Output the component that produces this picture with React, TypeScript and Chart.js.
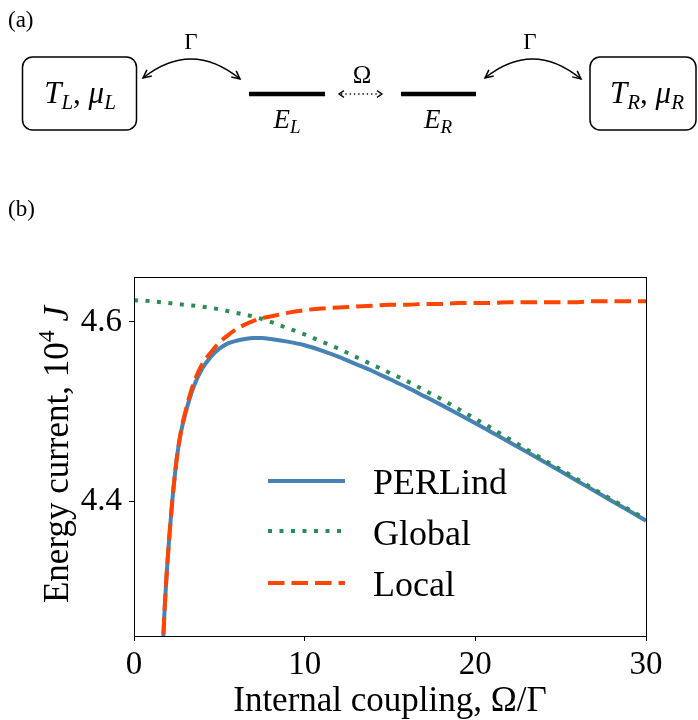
import React, { useEffect, useRef } from 'react';
import { Chart, registerables } from 'chart.js';

Chart.register(...registerables);

const W = 698;
const H = 720;
const SERIF = '"Liberation Serif", "DejaVu Serif", serif';

// ---- data ----
const xTicks = [0, 10, 20, 30];
const yTicks = [4.4, 4.6];

const seriesLabels = ['PERLind', 'Global', 'Local'];
const seriesColors = ['#4682b4', '#2e8b57', '#ff4500'];

const xCoupling = [1.55, 1.72, 1.8, 1.9, 2.0, 2.1, 2.25, 2.5, 2.75, 3.0, 3.25, 3.5, 4.0, 4.5, 5.0, 5.5, 6.0, 6.5, 7.0, 7.5, 8.0, 9, 10, 11, 12, 13, 14, 15, 16, 17, 18, 19, 20, 21, 22, 23, 24, 25, 26, 27, 28, 29, 30];
const perlindValues = [4.2, 4.25, 4.282, 4.315, 4.343, 4.368, 4.402, 4.447, 4.477, 4.497, 4.514, 4.528, 4.548, 4.561, 4.57, 4.576, 4.579, 4.581, 4.582, 4.582, 4.581, 4.578, 4.574, 4.568, 4.561, 4.553, 4.545, 4.536, 4.527, 4.5173, 4.5075, 4.4973, 4.487, 4.4765, 4.466, 4.4553, 4.4445, 4.4335, 4.4225, 4.4115, 4.4005, 4.3895, 4.3785];
const localValues = [4.2, 4.25, 4.282, 4.315, 4.343, 4.368, 4.402, 4.447, 4.478, 4.499, 4.517, 4.532, 4.553, 4.566, 4.577, 4.585, 4.592, 4.597, 4.601, 4.604, 4.606, 4.61, 4.613, 4.615, 4.616, 4.617, 4.618, 4.619, 4.619, 4.62, 4.62, 4.621, 4.621, 4.621, 4.622, 4.622, 4.622, 4.622, 4.622, 4.623, 4.623, 4.623, 4.623];

const xGlobal = [0, 1, 2, 3, 4, 5, 6, 7, 8, 9, 10, 11, 12, 13, 14, 15, 16, 17, 18, 19, 20, 21, 22, 23, 24, 25, 26, 27, 28, 29, 30];
const globalValues = [4.624, 4.623, 4.621, 4.619, 4.617, 4.614, 4.61, 4.606, 4.6, 4.593, 4.586, 4.578, 4.57, 4.561, 4.552, 4.543, 4.534, 4.524, 4.514, 4.503, 4.492, 4.481, 4.4695, 4.458, 4.4465, 4.4355, 4.4245, 4.413, 4.402, 4.391, 4.38];

const dashes: number[][] = [[], [4, 7.5], [16.5, 7]];

type Seg = { t: string; font: string; dy?: number };

function richWidth(ctx: CanvasRenderingContext2D, segs: Seg[]) {
  let w = 0;
  for (const s of segs) {
    ctx.font = s.font;
    w += ctx.measureText(s.t).width;
  }
  return w;
}

function drawRich(ctx: CanvasRenderingContext2D, segs: Seg[], x: number, y: number, align: 'left' | 'center') {
  let cx = align === 'center' ? x - richWidth(ctx, segs) / 2 : x;
  ctx.textAlign = 'left';
  ctx.textBaseline = 'alphabetic';
  for (const s of segs) {
    ctx.font = s.font;
    ctx.fillText(s.t, cx, y + (s.dy || 0));
    cx += ctx.measureText(s.t).width;
  }
}

function arrowHead(ctx: CanvasRenderingContext2D, tx: number, ty: number, dx: number, dy: number, len = 9, ang = 0.45) {
  const a = Math.atan2(dy, dx);
  ctx.beginPath();
  ctx.moveTo(tx - len * Math.cos(a - ang), ty - len * Math.sin(a - ang));
  ctx.lineTo(tx, ty);
  ctx.lineTo(tx - len * Math.cos(a + ang), ty - len * Math.sin(a + ang));
  ctx.stroke();
}

function curvedArrow(ctx: CanvasRenderingContext2D, x0: number, y0: number, x1: number, y1: number, peak: number) {
  const cx = (x0 + x1) / 2;
  const cy = 2 * peak - (y0 + y1) / 2;
  ctx.beginPath();
  ctx.moveTo(x0, y0);
  ctx.quadraticCurveTo(cx, cy, x1, y1);
  ctx.stroke();
  arrowHead(ctx, x0, y0, x0 - cx, y0 - cy);
  arrowHead(ctx, x1, y1, x1 - cx, y1 - cy);
}

function roundRect(ctx: CanvasRenderingContext2D, x: number, y: number, w: number, h: number, r: number) {
  ctx.beginPath();
  ctx.moveTo(x + r, y);
  ctx.lineTo(x + w - r, y);
  ctx.arcTo(x + w, y, x + w, y + r, r);
  ctx.lineTo(x + w, y + h - r);
  ctx.arcTo(x + w, y + h, x + w - r, y + h, r);
  ctx.lineTo(x + r, y + h);
  ctx.arcTo(x, y + h, x, y + h - r, r);
  ctx.lineTo(x, y + r);
  ctx.arcTo(x, y, x + r, y, r);
  ctx.closePath();
  ctx.stroke();
}

function drawDiagram(ctx: CanvasRenderingContext2D) {
  ctx.save();
  ctx.fillStyle = '#000';
  ctx.strokeStyle = '#000';
  const f = (s: number, it = false) => `${it ? 'italic ' : ''}${s}px ${SERIF}`;

  drawRich(ctx, [{ t: '(a)', font: f(23) }], 8, 27, 'left');
  drawRich(ctx, [{ t: '(b)', font: f(23) }], 8, 216, 'left');

  // boxes
  ctx.lineWidth = 1.5;
  roundRect(ctx, 22.5, 57, 114, 73, 10);
  roundRect(ctx, 590, 57, 106, 73, 10);

  const box = (sub: string) => [
    { t: 'T', font: f(31, true) },
    { t: sub, font: f(21, true), dy: 6 },
    { t: ', ', font: f(31) },
    { t: 'μ', font: f(31, true) },
    { t: sub, font: f(21, true), dy: 6 },
  ];
  drawRich(ctx, box('L'), 80, 103, 'center');
  drawRich(ctx, box('R'), 647, 103, 'center');

  // curved arrows
  ctx.lineWidth = 1.5;
  curvedArrow(ctx, 143, 78, 240, 79, 59);
  curvedArrow(ctx, 485, 78, 581, 79, 59);
  drawRich(ctx, [{ t: 'Γ', font: f(23) }], 191, 49, 'center');
  drawRich(ctx, [{ t: 'Γ', font: f(23) }], 530, 49, 'center');

  // energy levels
  ctx.lineWidth = 4.5;
  ctx.beginPath();
  ctx.moveTo(249, 94);
  ctx.lineTo(325, 94);
  ctx.moveTo(401, 94);
  ctx.lineTo(476, 94);
  ctx.stroke();
  drawRich(ctx, [{ t: 'E', font: f(27, true) }, { t: 'L', font: f(19, true), dy: 5 }], 287, 128, 'center');
  drawRich(ctx, [{ t: 'E', font: f(27, true) }, { t: 'R', font: f(19, true), dy: 5 }], 438, 128, 'center');

  // dotted coupling arrow
  ctx.lineWidth = 1.3;
  ctx.setLineDash([1.3, 3]);
  ctx.beginPath();
  ctx.moveTo(341, 94);
  ctx.lineTo(380, 94);
  ctx.stroke();
  ctx.setLineDash([]);
  arrowHead(ctx, 339, 94, -1, 0, 6, 0.6);
  arrowHead(ctx, 382, 94, 1, 0, 6, 0.6);
  drawRich(ctx, [{ t: 'Ω', font: f(25) }], 362, 83, 'center');
  ctx.restore();
}

const decorPlugin = {
  id: 'decor',
  beforeDraw(chart: any) {
    const ctx = chart.ctx as CanvasRenderingContext2D;
    ctx.save();
    ctx.fillStyle = '#fff';
    ctx.fillRect(0, 0, chart.width, chart.height);
    ctx.restore();
  },
  afterDraw(chart: any) {
    const ctx = chart.ctx as CanvasRenderingContext2D;
    const a = chart.chartArea;
    ctx.save();
    // frame
    ctx.strokeStyle = '#000';
    ctx.lineWidth = 1;
    ctx.strokeRect(Math.round(a.left) + 0.5, Math.round(a.top) + 0.5, Math.round(a.right - a.left), Math.round(a.bottom - a.top));

    // legend
    const legY = [481, 531, 583];
    const legBase = [494, 545, 596];
    for (let i = 0; i < seriesLabels.length; i++) {
      ctx.strokeStyle = seriesColors[i];
      ctx.lineWidth = 4;
      ctx.lineCap = 'butt';
      ctx.setLineDash(dashes[i]);
      ctx.beginPath();
      ctx.moveTo(268, legY[i]);
      ctx.lineTo(345, legY[i]);
      ctx.stroke();
      ctx.setLineDash([]);
      ctx.fillStyle = '#000';
      drawRich(ctx, [{ t: seriesLabels[i], font: `36px ${SERIF}` }], 373, legBase[i], 'left');
    }

    // axis titles
    ctx.fillStyle = '#000';
    drawRich(ctx, [{ t: 'Internal coupling, Ω/Γ', font: `35px ${SERIF}` }], (a.left + a.right) / 2, 711, 'center');
    ctx.translate(68, (a.top + a.bottom) / 2 - 2);
    ctx.rotate(-Math.PI / 2);
    drawRich(
      ctx,
      [
        { t: 'Energy current, 10', font: `35px ${SERIF}` },
        { t: '4', font: `24px ${SERIF}`, dy: -14 },
        { t: ' ', font: `35px ${SERIF}` },
        { t: 'J', font: `italic 35px ${SERIF}` },
      ],
      0,
      0,
      'center'
    );
    ctx.restore();

    drawDiagram(ctx);
  },
};

export default function App() {
  const ref = useRef<HTMLCanvasElement | null>(null);

  useEffect(() => {
    if (!ref.current) return;
    const mk = (xs: number[], ys: number[]) => xs.map((x, i) => ({ x, y: ys[i] }));
    const common = {
      pointRadius: 0,
      pointHoverRadius: 0,
      borderWidth: 4,
      fill: false,
      clip: 0,
      borderCapStyle: 'butt',
      cubicInterpolationMode: 'monotone',
    };
    const chart = new Chart(ref.current, {
      type: 'line',
      data: {
        datasets: [
          { ...common, label: seriesLabels[0], data: mk(xCoupling, perlindValues), borderColor: seriesColors[0], borderDash: dashes[0], order: 2 },
          { ...common, label: seriesLabels[1], data: mk(xGlobal, globalValues), borderColor: seriesColors[1], borderDash: dashes[1], order: 1 },
          { ...common, label: seriesLabels[2], data: mk(xCoupling, localValues), borderColor: seriesColors[2], borderDash: dashes[2], order: 0 },
        ] as any,
      },
      options: {
        animation: false,
        responsive: false,
        maintainAspectRatio: false,
        devicePixelRatio: 1,
        events: [],
        layout: { padding: { top: 277, right: 52, left: 0, bottom: 0 } },
        plugins: { legend: { display: false }, tooltip: { enabled: false }, title: { display: false } },
        scales: {
          x: {
            type: 'linear',
            min: 0,
            max: 30,
            afterBuildTicks: (s: any) => {
              s.ticks = xTicks.map((v) => ({ value: v }));
            },
            afterFit: (s: any) => {
              s.height = 84;
            },
            grid: { display: true, drawOnChartArea: false, drawTicks: true, tickLength: 5, color: '#000', lineWidth: 1 },
            border: { display: false },
            ticks: {
              color: '#000',
              font: { family: SERIF, size: 33 },
              padding: 5,
              maxRotation: 0,
              autoSkip: false,
              callback: (v: any) => String(v),
            },
          },
          y: {
            type: 'linear',
            min: 4.25,
            max: 4.65,
            afterBuildTicks: (s: any) => {
              s.ticks = yTicks.map((v) => ({ value: v }));
            },
            afterFit: (s: any) => {
              s.width = 134;
            },
            grid: { display: true, drawOnChartArea: false, drawTicks: true, tickLength: 5, color: '#000', lineWidth: 1 },
            border: { display: false },
            ticks: {
              color: '#000',
              font: { family: SERIF, size: 33 },
              padding: 7,
              autoSkip: false,
              callback: (v: any) => Number(v).toFixed(1),
            },
          },
        },
      } as any,
      plugins: [decorPlugin],
    });
    return () => chart.destroy();
  }, []);

  return (
    <div style={{ position: 'absolute', left: 0, top: 0, width: W, height: H, background: '#fff' }}>
      <canvas ref={ref} width={W} height={H} style={{ display: 'block', width: W, height: H }} />
    </div>
  );
}
